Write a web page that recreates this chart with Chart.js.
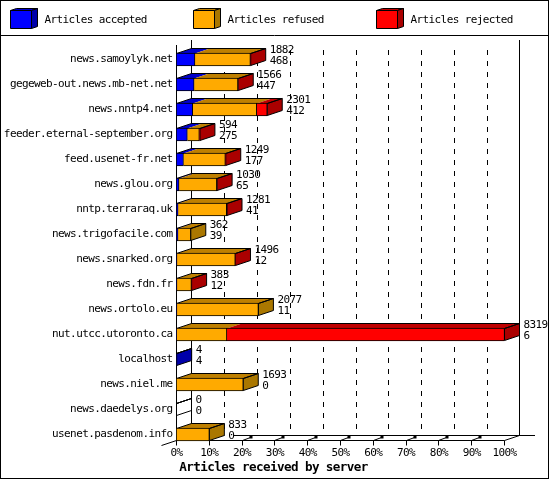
<!DOCTYPE html>
<html>
<head>
<meta charset="utf-8">
<title>Articles received by server</title>
<script src="https://cdn.jsdelivr.net/npm/chart.js@4"></script>
<style>
  html, body { margin: 0; padding: 0; background: #fff; }
  canvas { display: block; }
</style>
</head>
<body>
<canvas id="chart" width="550" height="480"></canvas>
<script>
const servers = [
  "news.samoylyk.net", "gegeweb-out.news.mb-net.net", "news.nntp4.net",
  "feeder.eternal-september.org", "feed.usenet-fr.net", "news.glou.org",
  "nntp.terraraq.uk", "news.trigofacile.com", "news.snarked.org",
  "news.fdn.fr", "news.ortolo.eu", "nut.utcc.utoronto.ca", "localhost",
  "news.niel.me", "news.daedelys.org", "usenet.pasdenom.info",
];
const totals = [1882, 1566, 2301, 594, 1249, 1030, 1281, 362, 1496, 383, 2077, 8319, 4, 1693, 0, 833];
const accepted = [468, 447, 412, 275, 177, 65, 41, 39, 12, 12, 11, 6, 4, 0, 0, 0];
const refused = [1406, 1111, 1623, 304, 1062, 957, 1232, 323, 1478, 366, 2066, 1271, 0, 1693, 0, 833];
const rejected = [8, 8, 266, 15, 10, 8, 8, 0, 6, 5, 0, 7042, 0, 0, 0, 0];
const seriesNames = ["Articles accepted", "Articles refused", "Articles rejected"];
const xTickLabels = ["0%", "10%", "20%", "30%", "40%", "50%", "60%", "70%", "80%", "90%", "100%"];
const xTickShares = [0, 0.1, 0.2, 0.3, 0.4, 0.5, 0.6, 0.7, 0.8, 0.9, 1];
const maxTotal = 8319;

const frontColors = ["#0000ff", "#ffaa00", "#ff0000"];
const topColors = ["#0000cc", "#bf8000", "#bf0000"];
const sideColors = ["#0000aa", "#aa7700", "#aa0000"];
const textFont = '11px "DejaVu Sans Mono"';

// depth of the fake 3d plane
const DX = 15;
const DY = 5;

function poly(ctx, points, fill, stroke) {
  ctx.beginPath();
  points.forEach((p, i) => (i ? ctx.lineTo(p[0], p[1]) : ctx.moveTo(p[0], p[1])));
  ctx.closePath();
  if (fill) {
    ctx.fillStyle = fill;
    ctx.fill();
  }
  if (stroke) {
    ctx.strokeStyle = "#000";
    ctx.stroke();
  }
}

function line(ctx, x1, y1, x2, y2) {
  ctx.beginPath();
  ctx.moveTo(x1, y1);
  ctx.lineTo(x2, y2);
  ctx.stroke();
}

function drawFrameAndLegend(ctx) {
  ctx.strokeStyle = "#000";
  ctx.strokeRect(0.5, 0.5, 548, 478);
  line(ctx, 0, 35.5, 549, 35.5);

  const boxX = [10.5, 193.5, 376.5];
  seriesNames.forEach((name, i) => {
    const x = boxX[i];
    poly(ctx, [[x, 10.5], [x + 6, 8.5], [x + 27, 8.5], [x + 21, 10.5]], topColors[i], true);
    poly(ctx, [[x + 21, 10.5], [x + 27, 8.5], [x + 27, 26.5], [x + 21, 28.5]], sideColors[i], true);
    poly(ctx, [[x, 10.5], [x + 21, 10.5], [x + 21, 28.5], [x, 28.5]], frontColors[i], true);
    ctx.fillStyle = "#000";
    ctx.font = textFont;
    ctx.textAlign = "left";
    ctx.textBaseline = "middle";
    ctx.fillText(name, x + 34, 20);
  });
}

function drawPlane(chart) {
  const ctx = chart.ctx;
  const xs = chart.scales.x;
  const left = xs.left;
  const right = xs.right;
  const front = 440.5;
  const back = front - DY;
  ctx.strokeStyle = "#000";
  ctx.lineWidth = 1;

  // dashed grid on the back wall
  ctx.setLineDash([5, 6]);
  xs.ticks.slice(1, -1).forEach((t) => {
    const x = Math.round(xs.getPixelForValue(t.value) + DX) + 0.5;
    line(ctx, x, 50, x, back);
  });
  ctx.setLineDash([]);

  line(ctx, left + DX, 40, left + DX, back);
  line(ctx, right + DX, 40, right + DX, back);
  line(ctx, left, 45, left, front);
  line(ctx, 233, back, 535, back);
  line(ctx, left, front, right, front);
  line(ctx, left - DX, front + DY, left + DX, back);
  line(ctx, right, front, right + DX, back);

  xs.ticks.forEach((t, i) => {
    const x = Math.round(xs.getPixelForValue(t.value) - 0.5) + 0.5;
    line(ctx, x, front, x, front + DY);
    if (i >= 2 && i <= 9) {
      line(ctx, x, front, x + 8, front - 3);
      ctx.fillStyle = "#000";
      ctx.fillRect(x + 7, front - 5, 3, 3);
    }
  });
}

function drawDepth(chart) {
  const ctx = chart.ctx;
  const metas = [0, 1, 2].map((i) => chart.getDatasetMeta(i).data);
  servers.forEach((_, row) => {
    const top = metas[0][row].y - 6;
    const bottom = metas[0][row].y + 6;
    const start = metas[0][row].base;
    const end = metas[2][row].x;

    metas.forEach((bars, i) => {
      const a = bars[row].base;
      const b = bars[row].x;
      if (b > a) {
        poly(ctx, [[a, top], [a + DX, top - DY], [b + DX, top - DY], [b, top]], topColors[i], false);
      }
    });

    let last = -1;
    [accepted[row], refused[row], rejected[row]].forEach((v, i) => {
      if (v > 0) last = i;
    });
    const sideFill = last >= 0 ? sideColors[last] : null;
    poly(ctx, [[end, top], [end + DX, top - DY], [end + DX, bottom - DY], [end, bottom]], sideFill, true);
    poly(ctx, [[start, top], [start + DX, top - DY], [end + DX, top - DY], [end, top]], null, true);
  });
}

function drawValues(chart) {
  const ctx = chart.ctx;
  const bars = chart.getDatasetMeta(2).data;
  ctx.fillStyle = "#000";
  ctx.font = textFont;
  ctx.textAlign = "left";
  ctx.textBaseline = "middle";
  servers.forEach((_, row) => {
    const x = bars[row].x + DX + 4;
    ctx.fillText(String(totals[row]), x, bars[row].y - 9);
    ctx.fillText(String(accepted[row]), x, bars[row].y + 2);
  });
}

const depthPlugin = {
  id: "depth",
  beforeDraw(chart) {
    // squeeze the font so it keeps the 6px cell of the original
    chart.ctx.letterSpacing = "-0.6px";
  },
  beforeDatasetsDraw(chart) {
    drawFrameAndLegend(chart.ctx);
    drawPlane(chart);
    drawDepth(chart);
  },
  afterDatasetsDraw(chart) {
    drawValues(chart);
  },
};

const seriesValues = [accepted, refused, rejected];

new Chart(document.getElementById("chart"), {
  type: "bar",
  plugins: [depthPlugin],
  data: {
    labels: servers,
    datasets: seriesNames.map((name, i) => ({
      label: name,
      data: seriesValues[i],
      backgroundColor: frontColors[i],
      borderColor: "#000",
      borderWidth: 1,
      borderSkipped: "left",
      barThickness: 13,
    })),
  },
  options: {
    indexAxis: "y",
    responsive: false,
    animation: false,
    layout: { padding: { top: 47, right: 3, left: 0, bottom: 0 } },
    plugins: {
      legend: { display: false },
      tooltip: { enabled: false },
      title: {
        display: true,
        position: "bottom",
        text: "Articles received by server",
        color: "#000",
        font: { family: "DejaVu Sans Mono", size: 12.6, weight: "bold", lineHeight: 1.11 },
        padding: { top: 0, bottom: 5 },
      },
    },
    scales: {
      x: {
        stacked: true,
        min: 0,
        max: maxTotal,
        grid: { display: false, drawTicks: false },
        border: { display: false },
        afterBuildTicks(scale) {
          scale.ticks = xTickShares.map((s) => ({ value: s * maxTotal }));
        },
        afterFit(scale) {
          scale.height = 14;
          scale.paddingRight = 45.5;
        },
        ticks: {
          autoSkip: false,
          maxRotation: 0,
          padding: 0,
          color: "#000",
          font: { family: "DejaVu Sans Mono", size: 11 },
          callback: (value, index) => xTickLabels[index],
        },
      },
      y: {
        stacked: true,
        grid: { display: false, drawTicks: false },
        border: { display: false },
        afterFit(scale) {
          scale.width = 176.5;
        },
        ticks: {
          autoSkip: false,
          padding: 4,
          color: "#000",
          font: { family: "DejaVu Sans Mono", size: 11 },
        },
      },
    },
  },
});
</script>
</body>
</html>
